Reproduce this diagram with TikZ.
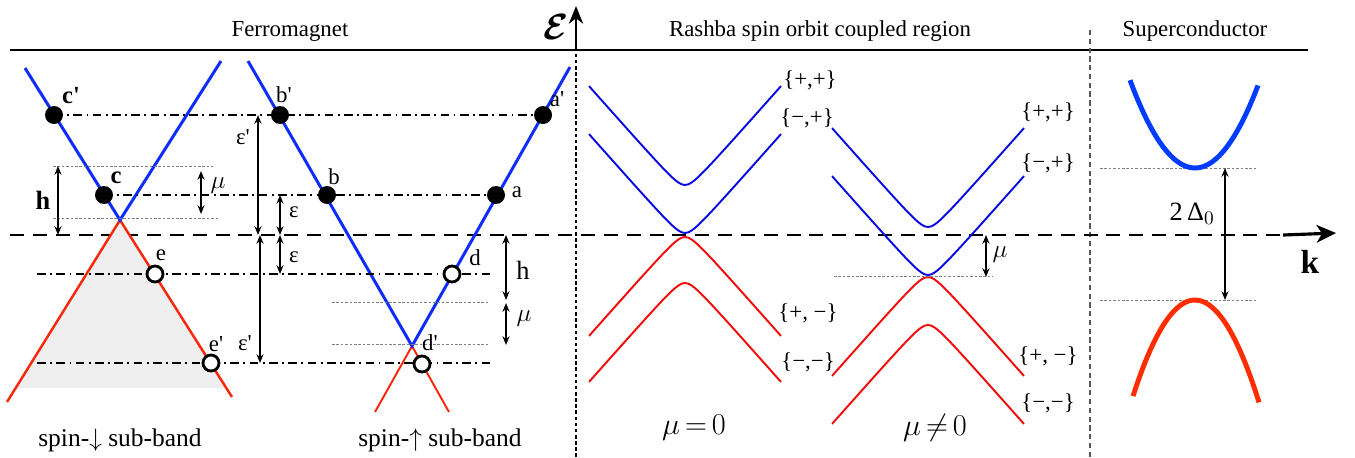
\documentclass[tikz,border=0pt]{standalone}
\usepackage{fontspec}
\setmainfont{Liberation Serif}
\usetikzlibrary{arrows.meta}

\definecolor{fmblue}{RGB}{15,45,250}
\definecolor{fmred}{RGB}{250,40,10}
\definecolor{rbblue}{RGB}{10,10,225}
\definecolor{rbred}{RGB}{245,10,10}
\definecolor{scblue}{RGB}{0,60,255}
\definecolor{scred}{RGB}{255,45,0}

\tikzset{
  dashdot/.style={line width=0.6pt, dash pattern=on 5pt off 2.5pt on 1pt off 2.5pt},
  guide/.style={gray, line width=0.5pt, dash pattern=on 1.5pt off 1pt},
  dot/.style={circle, fill=black, inner sep=0pt, minimum size=0.36cm},
  hole/.style={circle, draw=black, fill=white, line width=1.6pt, inner sep=0pt, minimum size=0.32cm},
  gap/.style={{Stealth[length=5pt,width=4pt]}-{Stealth[length=5pt,width=4pt]}, line width=0.9pt},
  gapthick/.style={gap, line width=1.6pt},
  lbl/.style={font=\fontsize{13}{15}\selectfont, inner sep=1pt},
  title/.style={font=\fontsize{13}{15}\selectfont, inner sep=0pt},
  band/.style={font=\fontsize{14.5}{17}\selectfont, inner sep=0pt}
}

\begin{document}
\begin{tikzpicture}[x=0.02cm, y=-0.02cm]
\useasboundingbox (0,0) rectangle (1355,457);

% headings and frame
\node[title] (tfm) at (290,31) {Ferromagnet};
\node[title] (trb) at (820,31) {Rashba spin orbit coupled region};
\node[title] (tsc) at (1195,31) {Superconductor};
\draw[line width=1.1pt] (10,50) -- (1308,50);
\draw[gray!70!black, line width=0.6pt, dash pattern=on 3pt off 2pt] (1090,30) -- (1090,457);

% energy axis
\coordinate (ebase) at (576,457);
\coordinate (eline) at (576,50);
\coordinate (etop) at (576,6);
\draw[line width=0.6pt, dash pattern=on 2pt off 1.5pt] (ebase) -- (eline);
\draw[line width=1.5pt, -{Stealth[length=10pt,width=8pt,inset=3pt]}] (eline) -- (etop);
\node[font=\fontsize{21}{21}\selectfont\boldmath, inner sep=0pt] (elab) at (556,27) {$\mathcal{E}$};

% Fermi level and k axis
\coordinate (fl) at (10,235);
\coordinate (fr) at (1283,235);
\coordinate (ktip) at (1336,233);
\draw[line width=1.3pt, dash pattern=on 8pt off 5pt] (fl) -- (fr);
\draw[line width=1.8pt, -{Stealth[length=11pt,width=10pt,inset=3pt]}] (fr) -- (ktip);
\node[font=\fontsize{19}{19}\selectfont\bfseries] (klab) at (1310,262) {k};

% ---- ferromagnet, spin-down sub-band
\fill[gray!13] (120,220) -- (16,388) -- (226,388) -- cycle;
\draw[fmred, line width=1.4pt] (7,402) -- (120,220) -- (232,397);
\draw[fmblue, line width=1.7pt] (25,68) -- (120,220) -- (221,61);

% ---- ferromagnet, spin-up sub-band
\draw[fmred, line width=1.1pt] (375,412) -- (412,346) -- (449,412);
\draw[fmblue, line width=1.7pt] (248,61) -- (412,346) -- (570,67);

% states
\coordinate (cp) at (54,115);
\coordinate (c) at (104,195);
\coordinate (bp) at (280,115);
\coordinate (b) at (327,195);
\coordinate (ap) at (543,115);
\coordinate (a) at (496,195);
\coordinate (e) at (155,274);
\coordinate (ep) at (211,363);
\coordinate (d) at (452,274);
\coordinate (dp) at (422,364);
\coordinate (lowL) at (37,274);
\coordinate (lowR) at (492,274);
\coordinate (botL) at (37,363);
\coordinate (botR) at (492,363);

\draw[dashdot] (cp) -- (ap);
\draw[dashdot] (c) -- (a);
\draw[dashdot] (lowL) -- (lowR);
\draw[dashdot] (botL) -- (botR);

\draw[guide] (53,166) -- (213,166);
\draw[guide] (53,218) -- (218,218);
\draw[guide] (332,302) -- (490,302);
\draw[guide] (332,344) -- (490,344);

\node[dot] (cpdot) at (cp) {};
\node[dot] (cdot) at (c) {};
\node[dot] (bpdot) at (bp) {};
\node[dot] (bdot) at (b) {};
\node[dot] (apdot) at (ap) {};
\node[dot] (adot) at (a) {};
\node[hole] (ehole) at (e) {};
\node[hole] (ephole) at (ep) {};
\node[hole] (dhole) at (d) {};
\node[hole] (dphole) at (dp) {};

\node[lbl, font=\fontsize{14}{16}\selectfont\bfseries] (cplab) at (71,96) {c\textquotesingle};
\node[lbl, font=\fontsize{14}{16}\selectfont\bfseries] (clab) at (116,178) {c};
\node[lbl] (bplab) at (284,95) {b\textquotesingle};
\node[lbl] (blab) at (334,177) {b};
\node[lbl] (aplab) at (557,99) {a\textquotesingle};
\node[lbl] (alab) at (517,192) {a};
\node[lbl] (elab2) at (161,255) {e};
\node[lbl] (eplab) at (216,344) {e\textquotesingle};
\node[lbl] (dlab) at (475,258) {d};
\node[lbl] (dplab) at (430,343) {d\textquotesingle};

% energy gaps in the ferromagnet
\draw[gapthick] (58,166) -- (58,0 |- fl);
\node[lbl, font=\fontsize{15}{17}\selectfont\bfseries] (hlab) at (43,200) {h};
\draw[gap] (201,171) -- (201,214);
\node[lbl, font=\fontsize{15}{17}\selectfont] (mulab) at (218,186) {$\mu$};
\draw[gap] (258,0 |- cp) -- (258,0 |- fl);
\node[lbl] (eplab1) at (243,137) {ε\textquotesingle};
\draw[gap] (280,0 |- c) -- (280,0 |- fl);
\node[lbl] (elab1) at (294,212) {ε};
\draw[gap] (280,0 |- fl) -- (280,0 |- e);
\node[lbl] (elab3) at (294,257) {ε};
\draw[gap] (260,0 |- fl) -- (260,0 |- ep);
\node[lbl] (eplab3) at (245,343) {ε\textquotesingle};
\draw[gapthick] (506,0 |- fl) -- (506,300);
\node[lbl, font=\fontsize{15}{17}\selectfont] (hlab2) at (523,270) {h};
\draw[gap] (506,303) -- (506,345);
\node[lbl, font=\fontsize{15}{17}\selectfont] (mulab2) at (524,319) {$\mu$};

\node[band] (sdown) at (120,440) {spin-$\downarrow$ sub-band};
\node[band] (sup) at (440,440) {spin-$\uparrow$ sub-band};

% ---- Rashba region
\foreach \cx/\cy/\sg/\col in {685/185/-1/rbblue, 685/233/-1/rbblue,
    685/237/1/rbred, 685/283/1/rbred, 928/227/-1/rbblue, 928/275/-1/rbblue,
    928/277/1/rbred, 928/325/1/rbred}
  \draw[\col, line width=1.1pt] plot[domain=-96:96, samples=61, smooth]
    ({\cx+\x}, {\cy+\sg*(sqrt(100+(1.13*\x)^2)-10)});

\node[lbl] (pp1) at (810,80) {\{+,+\}};
\node[lbl] (mp1) at (807,118) {\{−,+\}};
\node[lbl] (pm1) at (808,313) {\{+, −\}};
\node[lbl] (mm1) at (808,362) {\{−,−\}};
\node[lbl] (pp2) at (1048,112) {\{+,+\}};
\node[lbl] (mp2) at (1048,163) {\{−,+\}};
\node[lbl] (pm2) at (1048,356) {\{+, −\}};
\node[lbl] (mm2) at (1048,403) {\{−,−\}};

\draw[guide] (834,276) -- (993,276);
\draw[gap] (986,0 |- fl) -- (986,277);
\node[lbl, font=\fontsize{15}{17}\selectfont] (mulab3) at (1000,255) {$\mu$};

\node[font=\fontsize{16}{18}\selectfont] (mu0) at (694,428) {$\mu\,{=}\,0$};
\node[font=\fontsize{16}{18}\selectfont] (mun0) at (935,428) {$\mu\,{\neq}\,0$};

% ---- superconductor
\draw[guide] (1100,168) -- (1258,168);
\draw[guide] (1100,300) -- (1258,300);
\draw[scblue, line width=2.8pt] plot[domain=-65:63, samples=41, smooth]
  ({1195+\x}, {168-0.0208*\x*\x});
\draw[scred, line width=2.8pt] plot[domain=-62:64, samples=41, smooth]
  ({1195+\x}, {300+0.025*\x*\x});
\draw[gap] (1225,168) -- (1225,300);
\node[lbl, font=\fontsize{15}{17}\selectfont] (gaplab) at (1192,214) {2\,Δ$_0$};

\end{tikzpicture}
\end{document}
